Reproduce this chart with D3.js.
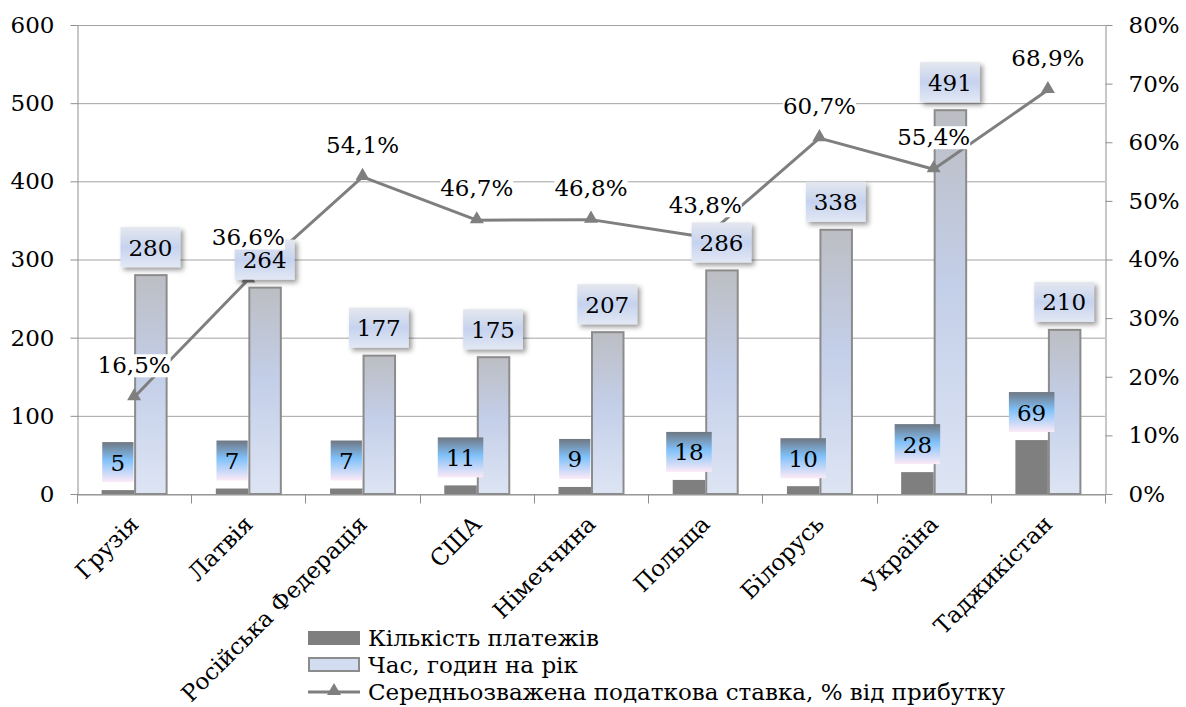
<!DOCTYPE html>
<html>
<head>
<meta charset="utf-8">
<script src="https://cdn.jsdelivr.net/npm/d3@7"></script>
<style>
  html, body { margin: 0; padding: 0; background: #fff; }
  svg { display: block; font-family: "DejaVu Serif", serif; }
</style>
</head>
<body>
<svg id="chart" width="1186" height="707"></svg>
<script>
const categories = ["Грузія", "Латвія", "Російська Федерація", "США", "Німеччина", "Польща", "Білорусь", "Україна", "Таджикістан"];
const payments = [5, 7, 7, 11, 9, 18, 10, 28, 69];
const hours = [280, 264, 177, 175, 207, 286, 338, 491, 210];
const taxRate = [16.5, 36.6, 54.1, 46.7, 46.8, 43.8, 60.7, 55.4, 68.9];
const leftTicks = [0, 100, 200, 300, 400, 500, 600];
const rightTicks = [0, 10, 20, 30, 40, 50, 60, 70, 80];
const seriesNames = ["Кількість платежів", "Час, годин на рік", "Середньозважена податкова ставка, % від прибутку"];

const svg = d3.select("#chart");
const L = 77, R = 1105, T = 25, B = 494;
const FS = 23;

const defs = svg.append("defs");
function vGrad(id, stops) {
  const g = defs.append("linearGradient").attr("id", id).attr("x1", 0).attr("y1", 0).attr("x2", 0).attr("y2", 1);
  stops.forEach(s => g.append("stop").attr("offset", s[0]).attr("stop-color", s[1]));
}
vGrad("barGrad", [[0, "#bcbec3"], [0.45, "#c3cee8"], [1, "#dde5f4"]]);
vGrad("hoursLbl", [[0, "#e4e7ee"], [0.5, "#c6d3ef"], [1, "#e2e8f4"]]);
vGrad("countLbl", [[0, "#6f7782"], [0.45, "#80c1fa"], [1, "#fdeaf6"]]);
const sh = defs.append("filter").attr("id", "shadow").attr("x", "-30%").attr("y", "-30%").attr("width", "160%").attr("height", "160%");
sh.append("feDropShadow").attr("dx", 3).attr("dy", 3).attr("stdDeviation", 2.5).attr("flood-color", "#000").attr("flood-opacity", 0.4);

const x = d3.scaleBand().domain(categories).range([L, R]).paddingInner(0).paddingOuter(0);
const bw = x.bandwidth();
const x1 = d3.scaleBand().domain(["p", "h"]).range([bw / 2 - 32.5, bw / 2 + 32.5]);
const yL = d3.scaleLinear().domain([0, 600]).range([B, T]);
const yR = d3.scaleLinear().domain([0, 80]).range([B, T]);
const fmtPct = v => d3.format(".1f")(v).replace(".", ",") + "%";

// gridlines
svg.append("g").selectAll("line").data(leftTicks).join("line")
  .attr("x1", L).attr("x2", R)
  .attr("y1", d => yL(d) + 0.5).attr("y2", d => yL(d) + 0.5)
  .attr("stroke", "#a3a3a3").attr("stroke-width", 1);

// left axis
const gL = svg.append("g").attr("transform", `translate(${L + 0.5},0)`)
  .call(d3.axisLeft(yL).tickValues(leftTicks).tickSize(7).tickPadding(16).tickSizeOuter(0));
// right axis
const gR = svg.append("g").attr("transform", `translate(${R + 0.5},0)`)
  .call(d3.axisRight(yR).tickValues(rightTicks).tickSize(7).tickPadding(16).tickSizeOuter(0).tickFormat(d => d + "%"));
[gL, gR].forEach(g => {
  g.select(".domain").attr("stroke", "#8f8f8f");
  g.selectAll(".tick line").attr("stroke", "#8f8f8f");
  g.selectAll("text").attr("font-size", FS).attr("font-family", "DejaVu Serif").attr("fill", "#000");
});

// bottom axis
const gB = svg.append("g").attr("transform", `translate(0,${B + 0.5})`)
  .call(d3.axisBottom(x).tickSize(0).tickSizeOuter(0).tickPadding(0));
gB.select(".domain").attr("stroke", "#8f8f8f");
gB.selectAll(".tick text")
  .attr("font-size", FS).attr("font-family", "DejaVu Serif").attr("fill", "#000")
  .attr("text-anchor", "end").attr("dy", 0).attr("y", 0)
  .attr("transform", "translate(6,31) rotate(-45)");
const bounds = categories.map(c => x(c)).concat([R]);
gB.append("g").selectAll("line").data(bounds).join("line")
  .attr("x1", d => Math.round(d) + 0.5).attr("x2", d => Math.round(d) + 0.5)
  .attr("y1", 0).attr("y2", 9).attr("stroke", "#8f8f8f");

// bars
const bars = svg.append("g");
bars.selectAll("rect.p").data(categories).join("rect").attr("class", "p")
  .attr("x", (c) => x(c) + x1("p")).attr("width", x1.bandwidth())
  .attr("y", (c, i) => yL(payments[i])).attr("height", (c, i) => B - yL(payments[i]))
  .attr("fill", "#7f7f7f");
bars.selectAll("rect.h").data(categories).join("rect").attr("class", "h")
  .attr("x", (c) => x(c) + x1("h") + 1).attr("width", x1.bandwidth() - 1)
  .attr("y", (c, i) => yL(hours[i])).attr("height", (c, i) => B - yL(hours[i]))
  .attr("fill", "url(#barGrad)").attr("stroke", "#8c8c8c").attr("stroke-width", 2);

// line
const cx = c => x(c) + bw / 2;
const line = d3.line().x((d, i) => cx(categories[i])).y(d => yR(d));
svg.append("path").datum(taxRate).attr("d", line)
  .attr("fill", "none").attr("stroke", "#7f7f7f").attr("stroke-width", 3).attr("stroke-linejoin", "round");
svg.append("g").selectAll("path").data(taxRate).join("path")
  .attr("d", d3.symbol().type(d3.symbolTriangle).size(85))
  .attr("transform", (d, i) => `translate(${cx(categories[i])},${yR(d) - 1})`)
  .attr("fill", "#7f7f7f");

// bar labels
function barLabels(vals, key, grad, shadow) {
  const g = svg.append("g");
  vals.forEach((v, i) => {
    const c = categories[i];
    const mid = x(c) + x1(key) + x1.bandwidth() / 2;
    const txt = String(v);
    const w = txt.length * FS * 0.62 + 17;
    const h = 40;
    const bot = yL(v) - 8;
    const r = g.append("rect").attr("x", mid - w / 2).attr("y", bot - h).attr("width", w).attr("height", h)
      .attr("fill", `url(#${grad})`);
    if (shadow) r.attr("filter", "url(#shadow)");
    g.append("text").attr("x", mid).attr("y", bot - h / 2 + 8.5).attr("text-anchor", "middle")
      .attr("font-size", FS).attr("fill", "#000").text(txt);
  });
}
barLabels(hours, "h", "hoursLbl", true);
barLabels(payments, "p", "countLbl", false);

// line labels
const ll = svg.append("g");
taxRate.forEach((v, i) => {
  const px = cx(categories[i]);
  const by = yR(v) - (i === 1 ? 34 : 24);
  const t = ll.append("text").attr("x", px).attr("y", by).attr("text-anchor", "middle")
    .attr("font-size", FS).attr("fill", "#000").text(fmtPct(v));
  const bb = t.node().getBBox();
  ll.insert("rect", () => t.node()).attr("x", bb.x).attr("y", bb.y + 2).attr("width", bb.width).attr("height", bb.height - 3).attr("fill", "#fff");
});

// legend
const lg = svg.append("g");
const lx = 308, rowsY = [638, 665, 692];
lg.append("rect").attr("x", lx).attr("y", rowsY[0] - 7).attr("width", 52).attr("height", 14).attr("fill", "#7f7f7f");
lg.append("rect").attr("x", lx + 1).attr("y", rowsY[1] - 7).attr("width", 50).attr("height", 13).attr("fill", "#d3ddf1").attr("stroke", "#8c8c8c").attr("stroke-width", 2);
lg.append("line").attr("x1", lx).attr("x2", lx + 52).attr("y1", rowsY[2]).attr("y2", rowsY[2]).attr("stroke", "#7f7f7f").attr("stroke-width", 3);
lg.append("path").attr("d", d3.symbol().type(d3.symbolTriangle).size(85)).attr("transform", `translate(${lx + 26},${rowsY[2] - 1})`).attr("fill", "#7f7f7f");
seriesNames.forEach((s, i) => {
  lg.append("text").attr("x", 368).attr("y", rowsY[i] + 8).attr("font-size", FS).attr("fill", "#000").text(s);
});
</script>
</body>
</html>
